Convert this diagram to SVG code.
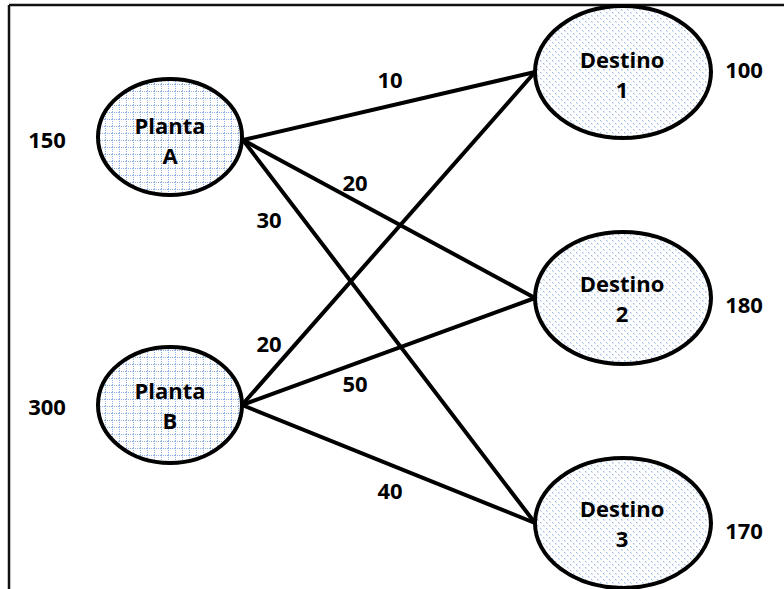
<svg xmlns="http://www.w3.org/2000/svg" width="784" height="589" viewBox="0 0 784 589">
  <defs>
    <!-- fine dotted grid used for the plants -->
    <pattern id="grid" width="7" height="7" patternUnits="userSpaceOnUse">
      <rect width="7" height="7" fill="#ffffff"/>
      <path d="M0 0.5H7M0.5 0V7" stroke="#8eb1e3" stroke-width="1" stroke-dasharray="1 1"/>
    </pattern>
    <!-- scattered dots used for the destinations -->
    <pattern id="dots" width="6" height="6" patternUnits="userSpaceOnUse">
      <rect width="6" height="6" fill="#ffffff"/>
      <rect x="0" y="0" width="1.2" height="1.2" fill="#9dbbe6"/>
      <rect x="3" y="3" width="1.2" height="1.2" fill="#9dbbe6"/>
      <rect x="1" y="1" width="1" height="1" fill="#cddcf2"/>
      <rect x="4" y="4" width="1" height="1" fill="#cddcf2"/>
    </pattern>
    <style>
      .node { stroke: #000; stroke-width: 4; }
      .plant { fill: url(#grid); }
      .dest { fill: url(#dots); }
      .edge { stroke: #000; stroke-width: 4; fill: none; stroke-linecap: round; }
      text { font-family: "Open Sans", "Liberation Sans", sans-serif; font-weight: bold; font-size: 22px; fill: #000; text-anchor: middle; }
    </style>
  </defs>

  <rect width="784" height="589" fill="#ffffff"/>
  <!-- frame: top and left edges -->
  <path d="M9 5H784M9 5V589" stroke="#111" stroke-width="2.5" fill="none"/>

  <g id="connectors">
    <line class="edge" x1="243" y1="140" x2="535" y2="72"/>
    <line class="edge" x1="243" y1="140" x2="535" y2="298"/>
    <line class="edge" x1="243" y1="140" x2="535" y2="523"/>
    <line class="edge" x1="242" y1="405" x2="535" y2="72"/>
    <line class="edge" x1="242" y1="405" x2="535" y2="298"/>
    <line class="edge" x1="242" y1="405" x2="535" y2="523"/>
    <text x="390" y="88">10</text>
    <text x="355" y="191">20</text>
    <text x="269" y="228">30</text>
    <text x="269" y="352">20</text>
    <text x="355" y="392">50</text>
    <text x="390" y="499">40</text>
  </g>

  <g id="planta-a">
    <ellipse class="node plant" cx="170" cy="137" rx="72" ry="58"/>
    <text x="170" y="134">Planta</text>
    <text x="170" y="164">A</text>
    <text x="47" y="148">150</text>
  </g>

  <g id="planta-b">
    <ellipse class="node plant" cx="170" cy="405" rx="72" ry="58"/>
    <text x="170" y="399">Planta</text>
    <text x="170" y="429">B</text>
    <text x="47" y="415">300</text>
  </g>

  <g id="destino-1">
    <ellipse class="node dest" cx="623" cy="72" rx="88" ry="66"/>
    <text x="622" y="68">Destino</text>
    <text x="622" y="98">1</text>
    <text x="744" y="78">100</text>
  </g>

  <g id="destino-2">
    <ellipse class="node dest" cx="623" cy="298" rx="88" ry="66"/>
    <text x="622" y="292">Destino</text>
    <text x="622" y="322">2</text>
    <text x="744" y="313">180</text>
  </g>

  <g id="destino-3">
    <ellipse class="node dest" cx="623" cy="523" rx="88" ry="65"/>
    <text x="622" y="517">Destino</text>
    <text x="622" y="547">3</text>
    <text x="744" y="539">170</text>
  </g>
</svg>
